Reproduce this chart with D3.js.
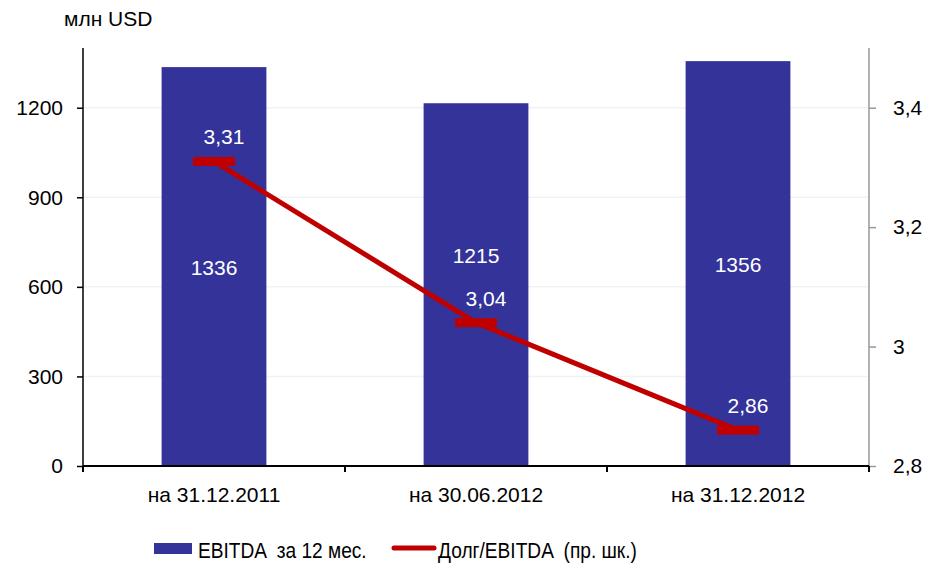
<!DOCTYPE html>
<html>
<head>
<meta charset="utf-8">
<script src="https://cdn.jsdelivr.net/npm/d3@7"></script>
<style>
  body { margin: 0; background: #fff; }
  svg text { font-family: "Liberation Sans", Arial, sans-serif; }
</style>
</head>
<body>
<div class="chart"></div>
<script>
var svgWidth = 930;
var svgHeight = 564;

// data
var categories = ["на 31.12.2011", "на 30.06.2012", "на 31.12.2012"];
var ebitda = [1336, 1215, 1356];
var debtRatio = [3.31, 3.04, 2.86];
var leftTicks = [0, 300, 600, 900, 1200];
var rightTicks = [2.8, 3.0, 3.2, 3.4];

var margin = { top: 48, right: 61, bottom: 98, left: 83 };
var width = svgWidth - margin.left - margin.right;
var height = svgHeight - margin.top - margin.bottom;

var svg = d3.select(".chart")
  .append("svg")
  .attr("width", svgWidth)
  .attr("height", svgHeight);

var chartGroup = svg.append("g")
  .attr("transform", `translate(${margin.left}, ${margin.top})`);

var x_scale = d3.scaleBand()
  .domain(categories)
  .range([0, width])
  .paddingInner(0.6)
  .paddingOuter(0.3);

var y_left = d3.scaleLinear().domain([0, 1400]).range([height, 0]);
var y_right = d3.scaleLinear().domain([2.8, 3.5]).range([height, 0]);

var fmtComma = d => d3.format("~g")(d).replace(".", ",");

// gridlines
chartGroup.selectAll(".grid")
  .data(leftTicks.slice(1))
  .enter()
  .append("line")
  .attr("x1", 0)
  .attr("x2", width)
  .attr("y1", d => y_left(d))
  .attr("y2", d => y_left(d))
  .attr("stroke", "#eef3f3")
  .attr("stroke-width", 1.5);

// bars
chartGroup.selectAll(".bar")
  .data(ebitda)
  .enter()
  .append("rect")
  .attr("x", (d, i) => x_scale(categories[i]))
  .attr("y", d => y_left(d))
  .attr("width", x_scale.bandwidth())
  .attr("height", d => height - y_left(d))
  .attr("fill", "#333399");

var cx = (d, i) => x_scale(categories[i]) + x_scale.bandwidth() / 2;

// bar labels (moved up if they would hit the line label)
chartGroup.selectAll(".barLabel")
  .data(ebitda)
  .enter()
  .append("text")
  .attr("x", cx)
  .attr("y", function (d, i) {
    var yy = (y_left(d) + height) / 2 + 8;
    var ly = y_right(debtRatio[i]) - 17;
    if (Math.abs(yy - ly) < 30) yy = ly - 43;
    return yy;
  })
  .attr("text-anchor", "middle")
  .attr("fill", "#fff")
  .style("font-size", "21px")
  .text(d => d);

// line
var line = d3.line()
  .x((d, i) => cx(d, i))
  .y(d => y_right(d));

chartGroup.append("path")
  .datum(debtRatio)
  .attr("d", line)
  .attr("fill", "none")
  .attr("stroke", "#c00000")
  .attr("stroke-width", 5);

chartGroup.selectAll(".marker")
  .data(debtRatio)
  .enter()
  .append("rect")
  .attr("x", (d, i) => cx(d, i) - 21)
  .attr("y", d => y_right(d) - 4.5)
  .attr("width", 42)
  .attr("height", 9)
  .attr("fill", "#c00000");

chartGroup.selectAll(".lineLabel")
  .data(debtRatio)
  .enter()
  .append("text")
  .attr("x", (d, i) => cx(d, i) + 10)
  .attr("y", d => y_right(d) - 17)
  .attr("text-anchor", "middle")
  .attr("fill", "#fff")
  .style("font-size", "21px")
  .text(d => fmtComma(d));

// axes
var leftAxis = d3.axisLeft(y_left).tickValues(leftTicks).tickSize(6).tickPadding(14).tickFormat(d3.format("d"));
var rightAxis = d3.axisRight(y_right).tickValues(rightTicks).tickSize(7).tickPadding(17).tickFormat(fmtComma);

var gl = chartGroup.append("g").call(leftAxis);
gl.select(".domain").attr("d", `M0,${height}V0`).attr("stroke", "#000").attr("stroke-width", 1.5);
gl.selectAll(".tick line").attr("stroke", "#000").attr("stroke-width", 1.5);
gl.selectAll("text").style("font-size", "21px").attr("fill", "#000").attr("font-family", null);

var gr = chartGroup.append("g").attr("transform", `translate(${width}, 0)`).call(rightAxis);
gr.select(".domain").attr("d", `M0,${height}V0`).attr("stroke", "#999").attr("stroke-width", 1.5);
gr.selectAll(".tick line").attr("stroke", "#999").attr("stroke-width", 1.5);
gr.selectAll("text").style("font-size", "21px").attr("fill", "#000").attr("font-family", null);

// bottom axis with ticks at category boundaries
var gb = chartGroup.append("g").attr("transform", `translate(0, ${height})`);
gb.append("line").attr("x1", 0).attr("x2", width).attr("stroke", "#000").attr("stroke-width", 2);
var step = width / categories.length;
gb.selectAll(".btick")
  .data(d3.range(categories.length + 1))
  .enter()
  .append("line")
  .attr("x1", d => d * step)
  .attr("x2", d => d * step)
  .attr("y1", 0)
  .attr("y2", 6)
  .attr("stroke", "#000")
  .attr("stroke-width", 2);
gb.selectAll(".blabel")
  .data(categories)
  .enter()
  .append("text")
  .attr("x", d => x_scale(d) + x_scale.bandwidth() / 2)
  .attr("y", 36)
  .attr("text-anchor", "middle")
  .style("font-size", "21px")
  .text(d => d);

// unit label
svg.append("text")
  .attr("x", 64)
  .attr("y", 26)
  .style("font-size", "21px")
  .text("млн USD");

// legend (text is a bit condensed in the original)
var legend = svg.append("g");
legend.append("rect")
  .attr("x", 154).attr("y", 543).attr("width", 38).attr("height", 11)
  .attr("fill", "#333399");
legend.append("text")
  .attr("transform", "translate(198, 558) scale(0.87, 1)")
  .style("font-size", "22px")
  .attr("xml:space", "preserve")
  .text("EBITDA  за 12 мес.");
legend.append("line")
  .attr("x1", 394).attr("x2", 434).attr("y1", 548).attr("y2", 548)
  .attr("stroke", "#c00000").attr("stroke-width", 5).attr("stroke-linecap", "round");
legend.append("text")
  .attr("transform", "translate(438, 558) scale(0.87, 1)")
  .style("font-size", "22px")
  .attr("xml:space", "preserve")
  .text("Долг/EBITDA  (пр. шк.)");
</script>
</body>
</html>
